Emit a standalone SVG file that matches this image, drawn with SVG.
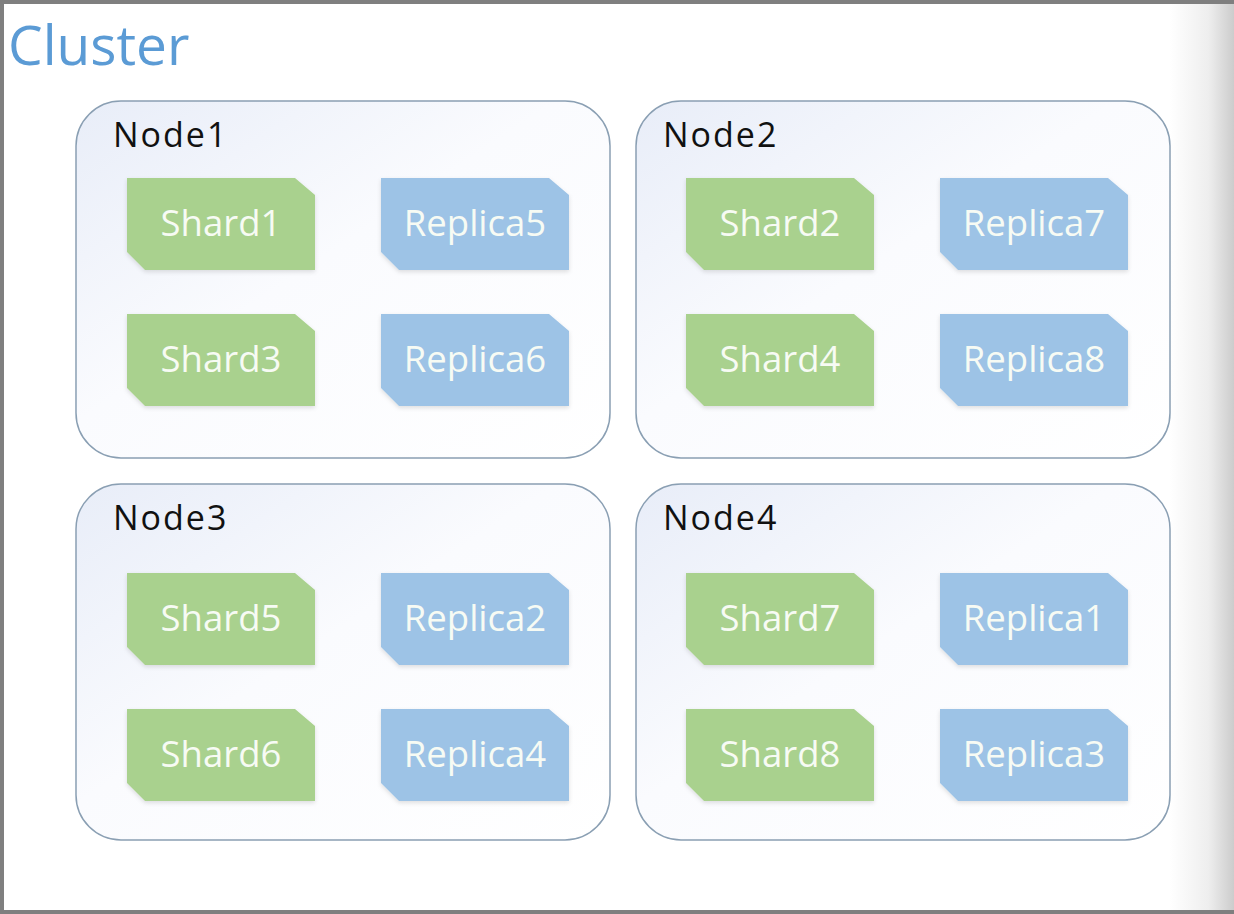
<svg xmlns="http://www.w3.org/2000/svg" width="1234" height="914" viewBox="0 0 1234 914">
<defs>
<style>
.title{font-family:"Open Sans","Liberation Sans",sans-serif;font-size:55px;fill:#5b9bd5}
.nlabel{font-family:"Open Sans","Liberation Sans",sans-serif;font-size:34px;fill:#111;letter-spacing:2px}
.slabel{font-family:"Open Sans","Liberation Sans",sans-serif;font-size:36.5px;fill:#f7fbf4;text-anchor:middle}
.node{fill:url(#nodeGrad);stroke:#8a9fb3;stroke-width:1.5}
.shard{fill:#a9d18e;filter:url(#sh)}
.replica{fill:#9dc3e6;filter:url(#sh)}
</style>
<linearGradient id="nodeGrad" x1="0" y1="0" x2="1" y2="1">
<stop offset="0" stop-color="#e8edf8"/>
<stop offset="0.45" stop-color="#fafbfe"/>
<stop offset="1" stop-color="#ffffff"/>
</linearGradient>
<linearGradient id="rightGrad" x1="0" y1="0" x2="1" y2="0">
<stop offset="0" stop-color="#ffffff"/>
<stop offset="0.6" stop-color="#eeeeee"/>
<stop offset="1" stop-color="#cccccc"/>
</linearGradient>
<filter id="sh" x="-10%" y="-10%" width="120%" height="130%">
<feDropShadow dx="0" dy="2" stdDeviation="2" flood-color="#000" flood-opacity="0.12"/>
</filter>
<path id="snip" d="M0,0 H168 L188,17 V92 H18 L0,74 Z"/>
</defs>
<rect x="0" y="0" width="1234" height="914" fill="#ffffff"/>
<rect x="1170" y="0" width="64" height="914" fill="url(#rightGrad)"/>
<rect x="0" y="0" width="1234" height="4" fill="#7f7f7f"/>
<rect x="0" y="0" width="4" height="914" fill="#7f7f7f"/>
<rect x="0" y="910" width="1234" height="4" fill="#7f7f7f"/>
<text class="title" x="8" y="65">Cluster</text>
<g id="connectors"/>
<g id="node1">
<rect class="node" x="76" y="101" width="534" height="357" rx="45" ry="45"/>
<text class="nlabel" x="113" y="147">Node1</text>
<g id="shard1"><use href="#snip" class="shard" x="127" y="178"/><text class="slabel" x="221" y="236">Shard1</text></g>
<g id="replica5"><use href="#snip" class="replica" x="381" y="178"/><text class="slabel" x="475" y="236">Replica5</text></g>
<g id="shard3"><use href="#snip" class="shard" x="127" y="314"/><text class="slabel" x="221" y="372">Shard3</text></g>
<g id="replica6"><use href="#snip" class="replica" x="381" y="314"/><text class="slabel" x="475" y="372">Replica6</text></g>
</g>
<g id="node2">
<rect class="node" x="636" y="101" width="534" height="357" rx="45" ry="45"/>
<text class="nlabel" x="663" y="147">Node2</text>
<g id="shard2"><use href="#snip" class="shard" x="686" y="178"/><text class="slabel" x="780" y="236">Shard2</text></g>
<g id="replica7"><use href="#snip" class="replica" x="940" y="178"/><text class="slabel" x="1034" y="236">Replica7</text></g>
<g id="shard4"><use href="#snip" class="shard" x="686" y="314"/><text class="slabel" x="780" y="372">Shard4</text></g>
<g id="replica8"><use href="#snip" class="replica" x="940" y="314"/><text class="slabel" x="1034" y="372">Replica8</text></g>
</g>
<g id="node3">
<rect class="node" x="76" y="484" width="534" height="356" rx="45" ry="45"/>
<text class="nlabel" x="113" y="530">Node3</text>
<g id="shard5"><use href="#snip" class="shard" x="127" y="573"/><text class="slabel" x="221" y="631">Shard5</text></g>
<g id="replica2"><use href="#snip" class="replica" x="381" y="573"/><text class="slabel" x="475" y="631">Replica2</text></g>
<g id="shard6"><use href="#snip" class="shard" x="127" y="709"/><text class="slabel" x="221" y="767">Shard6</text></g>
<g id="replica4"><use href="#snip" class="replica" x="381" y="709"/><text class="slabel" x="475" y="767">Replica4</text></g>
</g>
<g id="node4">
<rect class="node" x="636" y="484" width="534" height="356" rx="45" ry="45"/>
<text class="nlabel" x="663" y="530">Node4</text>
<g id="shard7"><use href="#snip" class="shard" x="686" y="573"/><text class="slabel" x="780" y="631">Shard7</text></g>
<g id="replica1"><use href="#snip" class="replica" x="940" y="573"/><text class="slabel" x="1034" y="631">Replica1</text></g>
<g id="shard8"><use href="#snip" class="shard" x="686" y="709"/><text class="slabel" x="780" y="767">Shard8</text></g>
<g id="replica3"><use href="#snip" class="replica" x="940" y="709"/><text class="slabel" x="1034" y="767">Replica3</text></g>
</g>
</svg>
